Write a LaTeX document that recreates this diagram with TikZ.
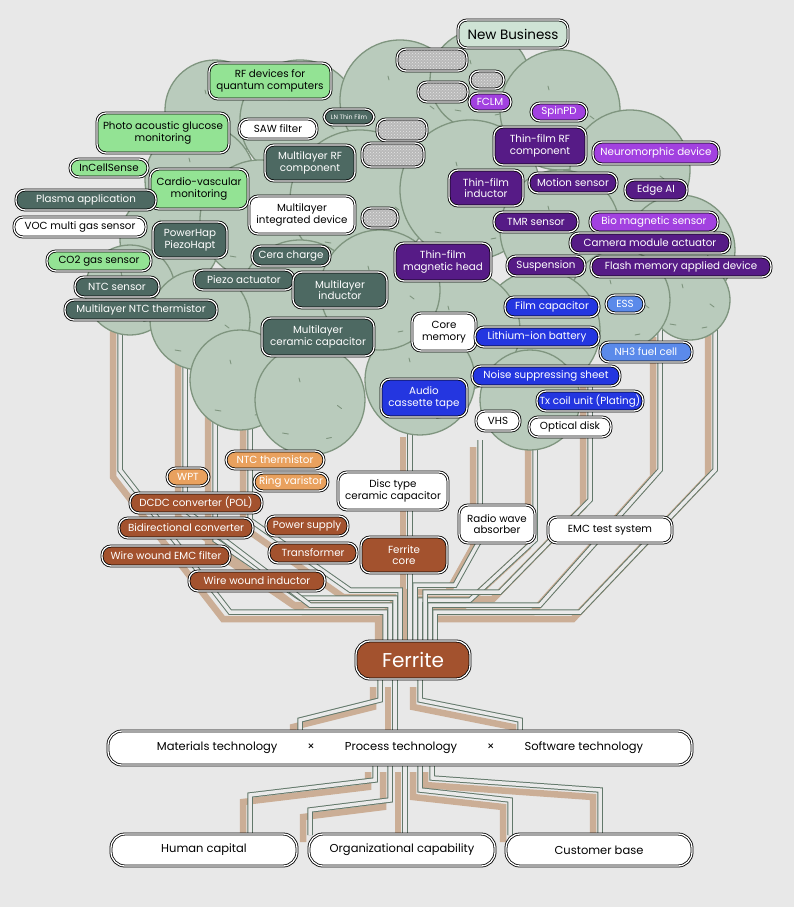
\documentclass[tikz,border=0pt]{standalone}
\usepackage{fontspec}
\setmainfont{Poppins}
\usetikzlibrary{patterns}
\definecolor{bg}{HTML}{E8E8E8}
\definecolor{lg}{HTML}{93E394}
\definecolor{ds}{HTML}{4D6962}
\definecolor{dp}{HTML}{561B86}
\definecolor{lp}{HTML}{A241E0}
\definecolor{bl}{HTML}{2436E0}
\definecolor{lb}{HTML}{5B8AEA}
\definecolor{lo}{HTML}{E9A15E}
\definecolor{br}{HTML}{A3522E}
\definecolor{nb}{HTML}{CFE3D5}
\definecolor{can}{HTML}{B9CBBC}
\definecolor{canl}{HTML}{7F957F}
\definecolor{brn}{HTML}{62786A}
\definecolor{shd}{HTML}{CBAE96}
\tikzset{
 pill/.style={rounded corners=9,draw=black,line width=0.8,double=white,double distance=1.3,align=center,inner sep=1pt,font=\fontsize{10.3}{11.5}\selectfont},
 W/.style={pill,fill=white,text=black},
 LG/.style={pill,fill=lg,text=black},
 DS/.style={pill,fill=ds,text=white},
 DP/.style={pill,fill=dp,text=white},
 LP/.style={pill,fill=lp,text=white},
 BL/.style={pill,fill=bl,text=white},
 LB/.style={pill,fill=lb,text=white},
 LO/.style={pill,fill=lo,text=white},
 BR/.style={pill,fill=br,text=white},
 HT/.style={pill,preaction={fill=gray!55},pattern=crosshatch dots,pattern color=gray!20},
 big/.style={rounded corners=14,font=\fontsize{11.5}{13}\selectfont},
 branch/.style={draw=brn,line width=1,double=bg!90!white,double distance=3.5,line join=miter},
 shadow/.style={draw=shd,line width=6.5,shift={(-7pt,-7pt)}},
}
\newcommand\nd[7]{\node[#1,minimum width=#4,minimum height=#5] (#6) at (#2,#3) {#7};}
\begin{document}
\begin{tikzpicture}[x=1pt,y=-1pt]
\fill[bg] (0,0) rectangle (794,907);
\useasboundingbox (0,0) rectangle (794,907);
\def\paths{
 {(395,640)--(395,598)--(300,598)--(215,540)--(215,370)},
 {(400,640)--(400,590)--(350,590)--(250,520)--(250,380)},
 {(390,640)--(390,605)--(310,605)--(185,510)--(185,350)},
 {(385,640)--(385,612)--(230,612)--(120,470)--(120,320)},
 {(420,640)--(420,600)--(470,600)--(535,540)--(535,420)},
 {(425,640)--(425,592)--(500,592)--(590,500)--(590,380)},
 {(430,640)--(430,605)--(540,605)--(660,470)--(660,330)},
 {(415,640)--(415,585)--(455,585)--(480,540)--(480,440)},
 {(435,640)--(435,612)--(580,612)--(715,470)--(715,300)},
 {(410,640)--(410,430)},
 {(380,680)--(380,700)--(300,720)--(300,732)},
 {(395,680)--(395,732)},
 {(420,680)--(420,700)--(520,720)--(520,732)},
 {(375,765)--(375,780)--(250,795)--(250,835)},
 {(390,765)--(390,800)--(310,810)--(310,835)},
 {(405,765)--(405,835)},
 {(420,765)--(420,790)--(510,800)--(510,835)},
 {(432,765)--(432,778)--(600,790)--(600,835)}}
\foreach \p in \paths {\path[shadow] \p;}
\foreach \p in \paths {\path[branch] \p;}
% canopy
\foreach \x/\y/\r in {215/110/50,300/120/60,400/100/60,480/80/50,560/110/60,630/170/60,680/250/55,690/300/40,200/180/55,170/240/50,130/290/45,260/220/60,360/200/70,470/190/70,560/230/60,620/300/50,540/330/60,460/330/60,300/300/60,200/320/50,240/380/50,310/400/55,420/380/55,530/400/50,380/290/60}
{\filldraw[fill=can,draw=canl,line width=1.3] (\x,\y) circle (\r);
 \draw[canl,line width=0.9,line cap=round] (\x-\r*0.5,\y+\r*0.6)--++(6,1) (\x+\r*0.3,\y+\r*0.7)--++(5,-1) (\x-\r*0.2,\y-\r*0.4)--++(1,4) (\x+\r*0.5,\y+\r*0.1)--++(4,3);}
% nodes
\nd{pill,fill=nb,font=\fontsize{13.5}{15}\selectfont}{513}{34}{110}{28}{nbus}{New Business}
\nd{HT}{432}{60}{70}{22}{h1}{}
\nd{HT}{487}{80}{34}{18}{h2}{}
\nd{HT}{443}{92}{50}{20}{h3}{}
\nd{HT}{402}{130}{50}{22}{h4}{}
\nd{HT}{393}{155}{62}{24}{h5}{}
\nd{HT}{380}{218}{36}{20}{h6}{}
\nd{LG}{270}{81}{122}{36}{rfq}{RF devices for\\quantum computers}
\nd{DS,font=\fontsize{6.3}{7}\selectfont}{349}{117}{50}{16}{ln}{LN Thin Film}
\nd{W}{278}{129}{78}{20}{saw}{SAW filter}
\nd{LG}{163}{133}{132}{40}{pag}{Photo acoustic glucose\\monitoring}
\nd{LP}{490}{102}{42}{18}{fclm}{FCLM}
\nd{LP}{559}{112}{56}{18}{spd}{SpinPD}
\nd{DP}{540}{146}{92}{38}{tfrf}{Thin-film RF\\component}
\nd{LP}{656}{153}{126}{22}{neu}{Neuromorphic device}
\nd{DS}{310}{163}{90}{36}{mrf}{Multilayer RF\\component}
\nd{LG}{109}{168}{78}{18}{ics}{InCellSense}
\nd{LG}{199}{189}{98}{40}{cvm}{Cardio-vascular\\monitoring}
\nd{DS}{86}{200}{140}{20}{pla}{Plasma application}
\nd{DP}{486}{188}{74}{36}{tfi}{Thin-film\\inductor}
\nd{DP}{573}{183}{88}{20}{mot}{Motion sensor}
\nd{DP}{656}{190}{62}{20}{eai}{Edge AI}
\nd{W}{302}{215}{106}{38}{mid}{Multilayer\\integrated device}
\nd{W}{80}{227}{132}{20}{voc}{VOC multi gas sensor}
\nd{DS}{190}{240}{74}{36}{phap}{PowerHap\\PiezoHapt}
\nd{DP}{536}{222}{84}{20}{tmr}{TMR sensor}
\nd{LP}{654}{222}{128}{20}{bio}{Bio magnetic sensor}
\nd{DP}{650}{243}{160}{20}{cam}{Camera module actuator}
\nd{DP}{443}{262}{96}{38}{tfmh}{Thin-film\\magnetic head}
\nd{DS}{291}{256}{78}{20}{cera}{Cera charge}
\nd{LG}{99}{261}{104}{20}{co2}{CO2 gas sensor}
\nd{DP}{546}{266}{78}{20}{sus}{Suspension}
\nd{DP}{681}{267}{180}{20}{fla}{Flash memory applied device}
\nd{DS}{244}{280}{100}{20}{pie}{Piezo actuator}
\nd{DS}{117}{287}{84}{20}{ntcs}{NTC sensor}
\nd{DS}{340}{290}{94}{36}{mli}{Multilayer\\inductor}
\nd{DS}{141}{310}{152}{20}{mntc}{Multilayer NTC thermistor}
\nd{BL}{552}{307}{94}{20}{film}{Film capacitor}
\nd{LB}{625}{304}{38}{18}{ess}{ESS}
\nd{W}{444}{332}{64}{38}{core}{Core\\memory}
\nd{DS}{318}{337}{112}{38}{mlcc}{Multilayer\\ceramic capacitor}
\nd{BL}{537}{337}{124}{20}{lib}{Lithium-ion battery}
\nd{LB}{646}{352}{92}{20}{nh3}{NH3 fuel cell}
\nd{BL}{546}{376}{148}{20}{nss}{Noise suppressing sheet}
\nd{BL}{424}{398}{86}{38}{act}{Audio\\cassette tape}
\nd{BL}{590}{401}{106}{20}{tx}{Tx coil unit (Plating)}
\nd{W}{498}{421}{44}{20}{vhs}{VHS}
\nd{W}{570}{427}{82}{20}{opt}{Optical disk}
\nd{LO}{275}{460}{98}{18}{ntct}{NTC thermistor}
\nd{LO}{188}{477}{42}{18}{wpt}{WPT}
\nd{LO}{291}{482}{74}{18}{ring}{Ring varistor}
\nd{W}{393}{491}{110}{38}{disc}{Disc type\\ceramic capacitor}
\nd{BR}{196}{503}{132}{20}{dcdc}{DCDC converter (POL)}
\nd{BR}{186}{528}{134}{20}{bid}{Bidirectional converter}
\nd{BR}{307}{526}{82}{20}{psu}{Power supply}
\nd{W}{497}{524}{76}{38}{rwa}{Radio wave\\absorber}
\nd{W}{610}{530}{124}{26}{emc}{EMC test system}
\nd{BR}{166}{556}{128}{20}{wwe}{Wire wound EMC filter}
\nd{BR}{313}{553}{88}{20}{tra}{Transformer}
\nd{BR}{404}{555}{86}{36}{fco}{Ferrite\\core}
\nd{BR}{257}{581}{136}{20}{wwi}{Wire wound inductor}
\nd{BR,rounded corners=14,font=\fontsize{20}{22}\selectfont}{413}{660}{114}{38}{fer}{Ferrite}
\nd{W,big}{400}{748}{584}{34}{tech}{Materials technology\hspace{30pt}×\hspace{30pt}Process technology\hspace{30pt}×\hspace{30pt}Software technology}
\nd{W,big}{204}{850}{186}{32}{hum}{Human capital}
\nd{W,big}{402}{850}{186}{32}{org}{Organizational capability}
\nd{W,big}{599}{850}{186}{32}{cus}{Customer base}
\end{tikzpicture}
\end{document}
